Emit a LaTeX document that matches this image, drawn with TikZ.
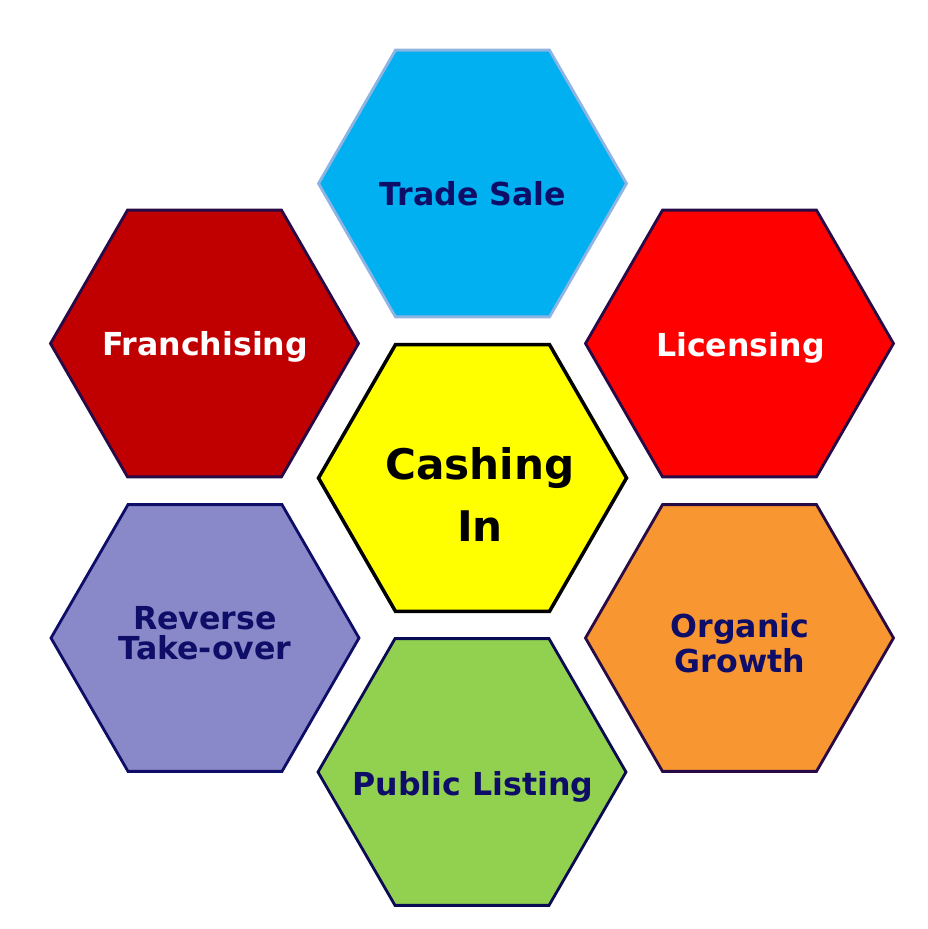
\documentclass[tikz,border=0pt]{standalone}
\usepackage{fontspec}
\setmainfont{DejaVu Sans}
\usepackage{tikz}
\usepackage{xcolor}
\usetikzlibrary{shapes.geometric}
\definecolor{hexnavy}{RGB}{14,14,104}
\definecolor{hexedge}{RGB}{40,10,70}
\definecolor{tradeblue}{RGB}{0,176,240}
\definecolor{tradeedge}{RGB}{141,180,226}
\definecolor{franchred}{RGB}{192,0,0}
\definecolor{licensered}{RGB}{255,0,0}
\definecolor{cashyellow}{RGB}{255,255,0}
\definecolor{reversepurple}{RGB}{137,137,201}
\definecolor{organicorange}{RGB}{248,150,50}
\definecolor{publicgreen}{RGB}{146,208,80}

\begin{document}
\begin{tikzpicture}[
  hexa/.style={regular polygon, regular polygon sides=6, minimum size=3.08cm, inner sep=0pt, draw=hexedge, line width=0.8pt},
  lbl/.style={anchor=base, align=center, text=hexnavy, font=\bfseries\fontsize{9}{8.4}\selectfont},
  whitelbl/.style={lbl, text=white},
  biglbl/.style={lbl, text=black, font=\bfseries\fontsize{12}{17.4}\selectfont}
]
\useasboundingbox[fill=white] (0,0) rectangle (9.28,-9.29);
\node[hexa, fill=tradeblue, draw=tradeedge] (trade) at (4.725,-1.835) {};
\node[hexa, fill=franchred] (franch) at (2.045,-3.435) {};
\node[hexa, fill=licensered] (license) at (7.395,-3.435) {};
\node[hexa, fill=cashyellow, draw=black, line width=1pt] (cash) at (4.725,-4.78) {};
\node[hexa, fill=reversepurple, draw=hexnavy] (reverse) at (2.05,-6.38) {};
\node[hexa, fill=organicorange] (organic) at (7.395,-6.38) {};
\node[hexa, fill=publicgreen, draw=hexnavy!80!black] (public) at (4.72,-7.72) {};
\node[lbl] (tradetxt) at (4.73,-2.05) {Trade Sale};
\node[whitelbl] (franchtxt) at (2.05,-3.55) {Franchising};
\node[whitelbl] (licensetxt) at (7.405,-3.56) {Licensing};
\node[biglbl] (cashtxt) at (4.80,-5.41) {Cashing\\In};
\node[lbl] (reversetxt) at (2.05,-6.59) {Reverse\\Take-over};
\node[lbl] (organictxt) at (7.40,-6.72) {Organic\\Growth};
\node[lbl] (publictxt) at (4.73,-7.95) {Public Listing};
\end{tikzpicture}
\end{document}
